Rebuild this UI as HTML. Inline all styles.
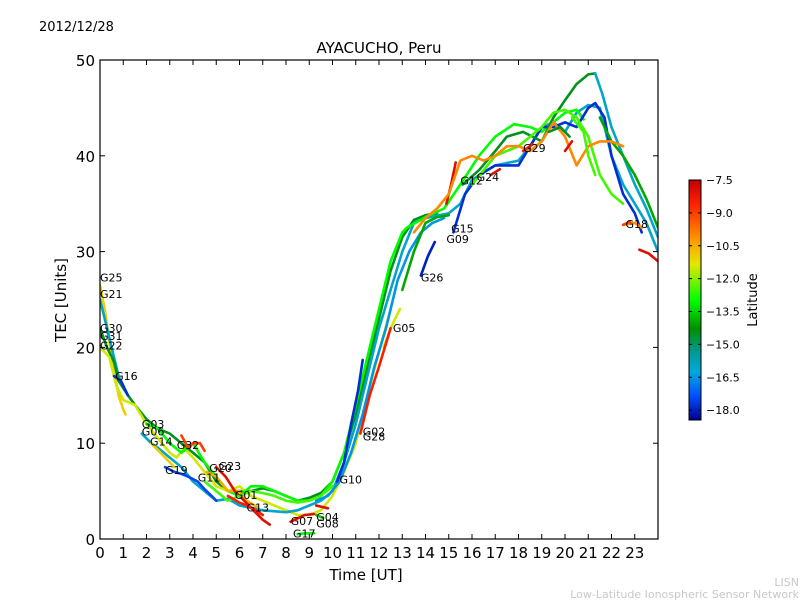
<!DOCTYPE html>
<html><head><meta charset="utf-8"><style>
body{margin:0;background:#fff;}
svg{display:block;font-family:"DejaVu Sans","Liberation Sans",sans-serif;}
</style></head><body>
<svg id="chart" width="800" height="600" viewBox="0 0 800 600">
<defs>
<linearGradient id="jet" x1="0" y1="1" x2="0" y2="0">
<stop offset="0" stop-color="#00008f"/><stop offset="0.1" stop-color="#0050ff"/><stop offset="0.2" stop-color="#00aadd"/><stop offset="0.28" stop-color="#009999"/><stop offset="0.38" stop-color="#009000"/><stop offset="0.5" stop-color="#00ff00"/><stop offset="0.65" stop-color="#e6e600"/><stop offset="0.75" stop-color="#ff9900"/><stop offset="0.9" stop-color="#ff2000"/><stop offset="1" stop-color="#c00000"/>
</linearGradient>
<clipPath id="plotclip"><rect x="100" y="60" width="558" height="479"/></clipPath>
</defs>
<rect x="0" y="0" width="800" height="600" fill="#fff"/>
<text x="39" y="31" font-size="13">2012/12/28</text>
<text x="379" y="53" font-size="15" text-anchor="middle">AYACUCHO, Peru</text>
<g id="tracks" clip-path="url(#plotclip)"></g>
<g id="labels"></g>
<rect x="100" y="60" width="558" height="479" fill="none" stroke="#000" stroke-width="1.2"/>
<g id="axes"></g>
<text x="366" y="580" font-size="15" text-anchor="middle">Time [UT]</text>
<text x="66" y="300" font-size="15" text-anchor="middle" transform="rotate(-90 66 300)">TEC [Units]</text>
<rect x="689" y="180" width="12" height="240" fill="url(#jet)" stroke="#000" stroke-width="1"/>
<g id="cbticks"></g>
<text x="757" y="300" font-size="13" text-anchor="middle" transform="rotate(-90 757 300)">Latitude</text>
<text x="799" y="586" font-size="11" fill="#c8c8c8" text-anchor="end">LISN</text>
<text x="799" y="598" font-size="11" fill="#c8c8c8" text-anchor="end">Low-Latitude Ionospheric Sensor Network</text>
</svg>
<script>
const xTicks=[0,1,2,3,4,5,6,7,8,9,10,11,12,13,14,15,16,17,18,19,20,21,22,23];
const yTicks=[0,10,20,30,40,50];
const cbTicks=[-7.5,-9.0,-10.5,-12.0,-13.5,-15.0,-16.5,-18.0];
const trackLats=[-11,-16,-14.5,-11.5,-17.8,-16,-13,-16.5,-11,-9,-17.5,-10.5,-8,-12.5,-8.5,-8,-13,-8,-13.5,-17.8,-18,-14,-11.5,-8.5,-17.8,-8,-14.5,-12.5,-16,-14,-10,-8.5,-8,-14.5,-12.5,-10,-8,-9,-8];
const trackPts=[
[[0,26.5],[0.2,24],[0.5,19],[0.8,15],[1.0,13.5],[1.1,13]],
[[0,25],[0.2,23],[0.5,20],[0.8,17],[1.0,16]],
[[0,22],[0.3,20],[0.6,18.5],[0.8,16.5],[1.2,15],[1.5,14],[2,12.5],[2.5,11.5],[3,11],[3.5,10],[4,9],[4.5,8],[5,6],[5.5,5],[6,5],[6.5,5],[7,5.3],[7.5,5],[8,4.5],[8.5,4],[9,4.3],[9.5,4.8],[10,6],[10.5,9],[11,13],[11.5,18],[12,23],[12.5,28],[13,31.5],[13.5,33.3],[14,33.8],[14.5,34]],
[[0,20],[0.4,19],[0.7,16],[1.0,14.5],[1.5,14],[2,12],[2.5,10.5],[3,9],[3.3,8.5],[3.6,9.5],[4,8.5],[4.5,7],[5,5.5],[5.5,5],[6,5.5],[6.5,4.5],[7,4],[7.5,3.5],[8,3],[8.5,2.5],[9,2.5],[9.5,3],[10,4.5],[10.5,7],[11,10],[11.5,15],[12,19.5],[12.5,24]],
[[0.6,17],[0.9,16.5],[1.2,15]],
[[1.8,11],[2.2,10],[2.5,9.5],[3,8.5],[3.5,7.5],[4,6],[4.5,5],[5,4],[5.5,4.2],[6,3.5],[7,3],[8,2.8],[8.5,3],[9,3.5],[9.5,4],[10,5],[10.5,8],[11,12],[11.5,17],[12,22],[12.5,26],[13,30],[13.5,33],[14,33.5],[15,34],[15.5,35],[16,37.5],[17,39],[18,39.5],[18.5,41],[19,43],[19.5,43.5],[20,42.5],[20.5,44.5],[21,45.3],[21.5,45],[22,40],[22.5,37],[23,35],[23.5,33],[24,30]],
[[2,12],[2.5,11.5],[3,10],[3.5,9],[4,10],[4.5,8],[5,6.5],[5.5,5],[6,4.5],[6.5,5.5],[7,5.5],[7.5,5],[8,4.5],[8.5,4],[9,4],[9.5,4.5],[10,6],[10.5,9],[11,14],[11.5,19],[12,24],[12.5,29],[13,32],[13.2,32.5],[14,33.6],[14.8,34.5],[15.5,37],[16.3,40],[17,42],[17.8,43.3],[18.5,43],[19,42.5],[19.5,43.5],[20,44.5],[20.5,44.8],[20.8,43.8]],
[[9.3,4],[9.8,4.5],[10.3,6],[10.8,9],[11.3,13],[11.8,18],[12.3,22],[12.8,27],[13.3,30],[13.8,32],[14.3,33],[14.8,33.5]],
[[2.2,10],[2.6,9],[3,8],[3.2,7.5]],
[[3.5,10.8],[3.8,9.5],[4,10],[4.3,10],[4.5,9.2]],
[[2.8,7.5],[3.2,7],[3.5,6.8],[3.8,6.5],[4.2,6],[4.5,5.2],[4.8,4.5],[5,4]],
[[4.6,7],[5,6.5],[5.5,5],[6,5],[6.3,4],[6.8,3.3]],
[[5.0,7.5],[5.4,6.5],[5.8,5],[6.2,4],[6.6,3],[7,2],[7.3,1.5]],
[[4.5,6],[5,5],[5.5,4],[6,4.5],[6.5,5],[7,4.8],[7.5,4.5],[8,4],[8.5,3.8],[9,4],[9.5,4.5],[10,5.5]],
[[5.5,4.5],[6,3.8],[6.5,3.3],[7,2.5]],
[[8.2,1.8],[8.8,2.5],[9.2,2.6]],
[[8.5,0.5],[8.8,0.6],[9.2,0.6]],
[[9.3,3.5],[9.8,3.2]],
[[9.3,2.5],[9.6,2.2]],
[[10.2,6],[10.5,8],[10.8,12],[11.1,15.5],[11.3,18.7]],
[[13.8,27.5],[14.1,29.5],[14.4,31]],
[[13,26],[13.5,30],[14,33],[14.5,33.6],[15,33.8]],
[[12.2,20],[12.5,22],[12.9,24]],
[[11.2,11],[11.6,15],[12,18],[12.5,22]],
[[15.2,32],[15.7,36],[16.3,38],[17,39],[17.5,39],[18,39],[18.5,41],[19,43],[19.5,43],[20,43.5],[20.5,43],[21,45],[21.3,45.5],[21.7,44],[22,40],[22.5,36],[23,34],[23.3,32]],
[[14.9,35],[15.1,37],[15.3,39.3]],
[[15.6,37],[16.3,38.5],[17,40.5],[17.5,42],[18.2,42.5],[19,41.5],[19.5,44],[20,45.8],[20.5,47.5],[21,48.5],[21.3,48.6]],
[[16,37],[17,40],[18,41],[19,43],[19.5,44.5],[20,44.8],[20.5,44],[21,42],[21.5,38],[22,36],[22.5,35]],
[[21.3,48.6],[21.6,46.5],[22,43],[22.5,40],[23,37],[23.5,34.5],[24,31.5]],
[[21.5,44],[22,41.5],[22.5,40],[23,38],[23.5,35.5],[24,32.5]],
[[13.5,32],[14,33.5],[14.5,34.5],[15,36],[15.5,39.5],[16,40],[16.5,39.5],[17,40],[17.5,41],[18,41],[18.5,40.5],[19,41.5],[19.5,43.5],[20,42],[20.5,39],[21,41],[21.5,41.5],[22,41.5],[22.5,41]],
[[18.2,40.5],[18.6,41.2]],
[[20,40.5],[20.3,41.5]],
[[19.3,42.5],[19.8,43],[20.2,42]],
[[20.3,44],[20.8,42.5],[21,40],[21.3,38]],
[[22.5,32.8],[23,33],[23.3,32.5]],
[[23.2,30.2],[23.6,29.8],[24,29]],
[[22.5,32.8],[22.8,33.1]],
[[16.8,38],[17.2,38.6]]
];
const labelNames=["G25","G21","G30","G31","G22","G16","G03","G06","G14","G32","G19","G20","G23","G11","G01","G13","G07","G04","G08","G17","G10","G02","G28","G05","G26","G15","G09","G12","G24","G29","G18"];
const labelT=[0,0,0,0,0,0.65,1.8,1.8,2.15,3.3,2.8,4.7,5.1,4.2,5.8,6.3,8.2,9.3,9.3,8.3,10.3,11.3,11.3,12.6,13.8,15.1,14.9,15.5,16.2,18.2,22.6];
const labelV=[27.3,25.6,22,21.2,20.2,17,12,11.2,10.2,9.8,7.2,7.4,7.6,6.4,4.6,3.3,1.9,2.3,1.6,0.6,6.2,11.2,10.7,22,27.3,32.4,31.3,37.4,37.8,40.8,32.9];

const X0=100,X1=658,Y0=539,Y1=60;
const xs=t=>X0+(t/24)*(X1-X0);
const ys=v=>Y0-(v/50)*(Y0-Y1);
const cbY=l=>180+((-7.5-l)/(18.45-7.5))*240;
const stops=[[0,[0,0,143]],[0.1,[0,80,255]],[0.2,[0,170,221]],[0.28,[0,153,153]],[0.38,[0,144,0]],[0.5,[0,255,0]],[0.65,[230,230,0]],[0.75,[255,153,0]],[0.9,[255,32,0]],[1,[192,0,0]]];
function latColor(l){let f=(l+18.45)/(18.45-7.5);f=Math.max(0,Math.min(1,f));
for(let i=1;i<stops.length;i++){if(f<=stops[i][0]){const a=stops[i-1],b=stops[i];const u=(f-a[0])/(b[0]-a[0]);
const c=a[1].map((v,k)=>Math.round(v+(b[1][k]-v)*u));return `rgb(${c[0]},${c[1]},${c[2]})`;}}return 'rgb(192,0,0)';}
const NS='http://www.w3.org/2000/svg';
const tg=document.getElementById('tracks');
trackPts.forEach((pts,i)=>{
const p=document.createElementNS(NS,'polyline');
p.setAttribute('points',pts.map(q=>xs(q[0]).toFixed(1)+','+ys(q[1]).toFixed(1)).join(' '));
p.setAttribute('fill','none');p.setAttribute('stroke',latColor(trackLats[i]));
p.setAttribute('stroke-width','2.6');p.setAttribute('stroke-linejoin','round');p.setAttribute('stroke-linecap','round');


tg.appendChild(p);});
const lg=document.getElementById('labels');
labelNames.forEach((n,i)=>{
const t=document.createElementNS(NS,'text');
t.setAttribute('x',xs(labelT[i]).toFixed(1));t.setAttribute('y',(ys(labelV[i])+4).toFixed(1));
t.setAttribute('font-size','11');t.textContent=n;


lg.appendChild(t);});
const ag=document.getElementById('axes');
xTicks.forEach(v=>{const x=xs(v);
['M'+x+' '+Y0+'v-5','M'+x+' '+Y1+'v5'].forEach(d=>{const l=document.createElementNS(NS,'path');l.setAttribute('d',d);l.setAttribute('stroke','#000');


ag.appendChild(l);});
const t=document.createElementNS(NS,'text');t.setAttribute('x',x);t.setAttribute('y',Y0+19);t.setAttribute('font-size','15');t.setAttribute('text-anchor','middle');t.textContent=v;


ag.appendChild(t);});
yTicks.forEach(v=>{const y=ys(v);
['M'+X0+' '+y+'h5','M'+X1+' '+y+'h-5'].forEach(d=>{const l=document.createElementNS(NS,'path');l.setAttribute('d',d);l.setAttribute('stroke','#000');


ag.appendChild(l);});
const t=document.createElementNS(NS,'text');t.setAttribute('x',X0-5);t.setAttribute('y',y+6);t.setAttribute('font-size','15');t.setAttribute('text-anchor','end');t.textContent=v;


ag.appendChild(t);});
const cg=document.getElementById('cbticks');
cbTicks.forEach(v=>{const y=cbY(v);
const l=document.createElementNS(NS,'path');l.setAttribute('d','M689 '+y+'h3M701 '+y+'h-3');l.setAttribute('stroke','#000');


cg.appendChild(l);
const t=document.createElementNS(NS,'text');t.setAttribute('x',706);t.setAttribute('y',y+4);t.setAttribute('font-size','11');t.textContent='\u2212'+Math.abs(v).toFixed(1);


cg.appendChild(t);});
</script>
</body></html>
